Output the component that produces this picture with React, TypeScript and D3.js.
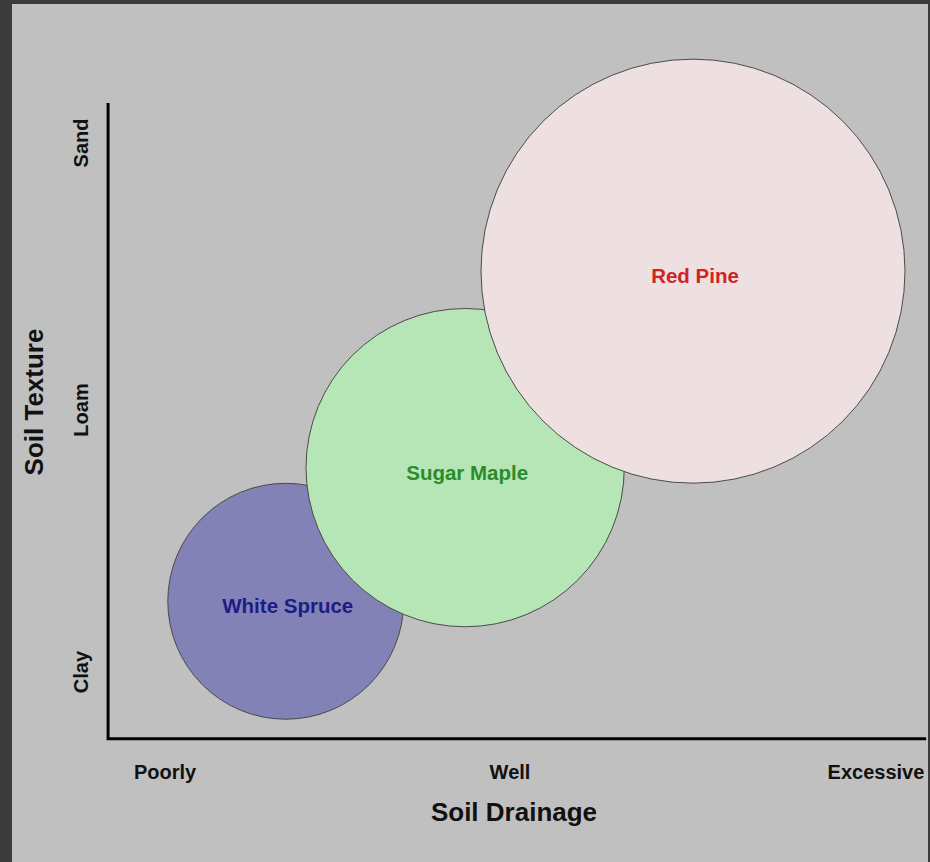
import { useEffect, useRef } from 'react'
import * as d3 from 'd3'

const W = 930, H = 862

// Ordinal levels on each axis
const drainageLabels = ['Poorly', 'Well', 'Excessive']
const textureLabels = ['Clay', 'Loam', 'Sand']

// Species (drawn in this order, later ones on top)
const species = ['White Spruce', 'Sugar Maple', 'Red Pine']
const drainage = [0.35, 0.87, 1.5]
const texture = [0.27, 0.78, 1.52]
const relSize = [1.0, 1.82, 3.23]

const fills = ['#8282b6', '#b6e6b6', '#eee0e1']
const textColors = ['#1c1c84', '#2a8c2a', '#d02424']

export default function App() {
  const svgRef = useRef<SVGSVGElement>(null)

  useEffect(() => {
    const svg = d3.select(svgRef.current!)
    svg.selectAll('*').remove()

    // piecewise scales – the tick labels aren't spaced evenly
    const x = d3.scaleLinear().domain([0, 1, 2]).range([165, 510, 876])
    const y = d3.scaleLinear().domain([0, 1, 2]).range([672, 410, 143])
    const r = d3.scaleSqrt().domain([0, 3.23]).range([0, 212])

    const font = '"Liberation Sans", Arial, sans-serif'

    // frame + background
    svg.append('rect').attr('width', W).attr('height', H).attr('fill', '#3b3b3b')
    svg.append('rect').attr('x', 12).attr('y', 4).attr('width', 916).attr('height', H - 4).attr('fill', '#c0c0c0')

    // bubbles
    const g = svg.append('g')
    species.forEach((name, i) => {
      g.append('circle')
        .attr('cx', x(drainage[i]))
        .attr('cy', y(texture[i]))
        .attr('r', r(relSize[i]))
        .attr('fill', fills[i])
        .attr('stroke', '#4a4a4a')
        .attr('stroke-width', 1)
    })
    species.forEach((name, i) => {
      g.append('text')
        .attr('x', x(drainage[i]) + 2)
        .attr('y', y(texture[i]))
        .attr('dy', '0.58em')
        .attr('text-anchor', 'middle')
        .attr('font-family', font).attr('font-weight', 'bold').attr('font-size', 20.5)
        .attr('fill', textColors[i])
        .text(name)
    })

    // axes lines
    const x0 = x(-0.165), x1 = x(2.137)
    const y0 = y(-0.255), y1 = y(2.15)
    svg.append('path')
      .attr('d', `M${x0},${y1}V${y0}H${x1}`)
      .attr('fill', 'none').attr('stroke', '#000').attr('stroke-width', 3)

    // x tick labels
    drainageLabels.forEach((lab, i) => {
      svg.append('text')
        .attr('x', x(i)).attr('y', 779)
        .attr('text-anchor', 'middle')
        .attr('font-family', font).attr('font-weight', 'bold').attr('font-size', 20)
        .attr('fill', '#111')
        .text(lab)
    })

    // y tick labels (rotated)
    textureLabels.forEach((lab, i) => {
      svg.append('text')
        .attr('transform', `translate(88,${y(i)}) rotate(-90)`)
        .attr('text-anchor', 'middle')
        .attr('font-family', font).attr('font-weight', 'bold').attr('font-size', 20)
        .attr('fill', '#111')
        .text(lab)
    })

    // titles
    svg.append('text')
      .attr('x', 514).attr('y', 821)
      .attr('text-anchor', 'middle')
      .attr('font-family', font).attr('font-weight', 'bold').attr('font-size', 26)
      .attr('fill', '#111')
      .text('Soil Drainage')
    svg.append('text')
      .attr('transform', 'translate(43,402) rotate(-90)')
      .attr('text-anchor', 'middle')
      .attr('font-family', font).attr('font-weight', 'bold').attr('font-size', 26)
      .attr('fill', '#111')
      .text('Soil Texture')
  }, [])

  return (
    <svg
      ref={svgRef}
      width={W}
      height={H}
      viewBox={`0 0 ${W} ${H}`}
      style={{ position: 'absolute', left: 0, top: 0, display: 'block' }}
    />
  )
}
